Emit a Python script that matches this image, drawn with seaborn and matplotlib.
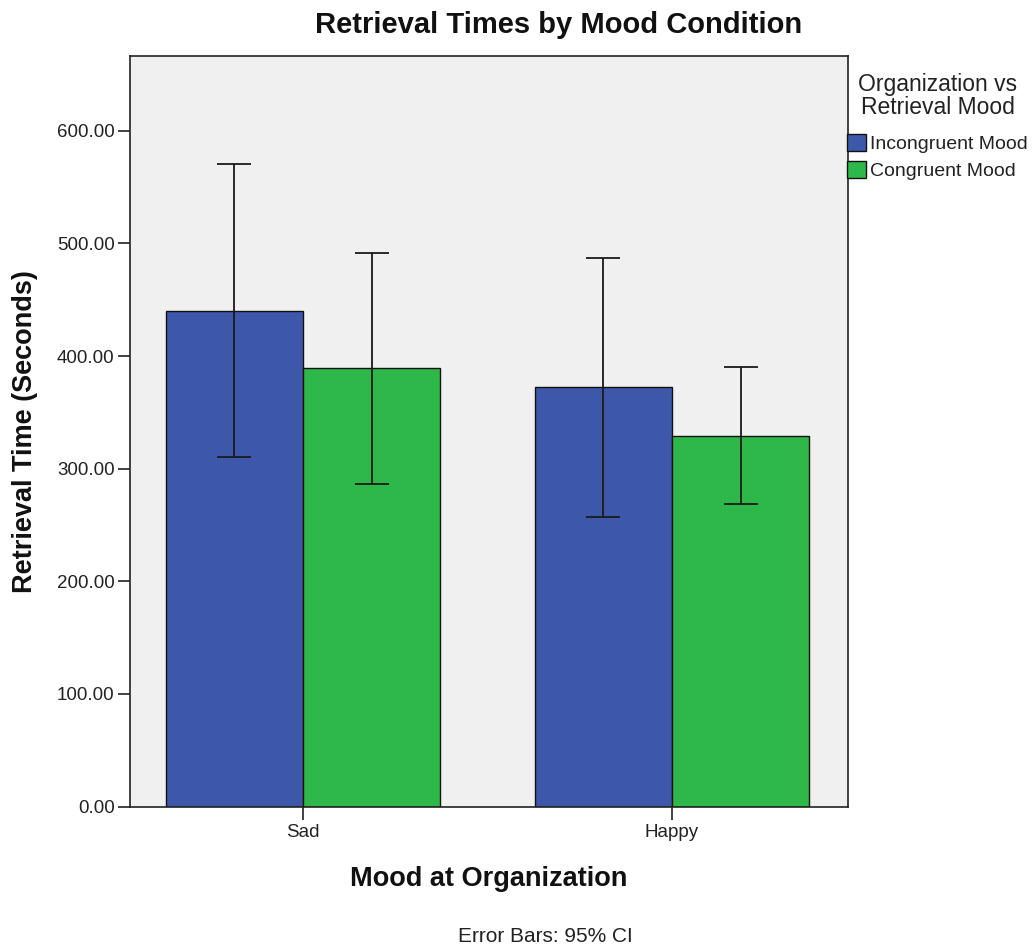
import matplotlib
matplotlib.use("Agg")
import matplotlib.pyplot as plt
from matplotlib.ticker import FixedLocator, StrMethodFormatter
import seaborn as sns
import pandas as pd

# ---- data ----
moods = ["Sad", "Happy"]
conditions = ["Incongruent Mood", "Congruent Mood"]
means_incongruent = [440.0, 372.6]
means_congruent = [389.4, 329.3]
ci_low_incongruent = [310.4, 257.4]
ci_high_incongruent = [570.6, 486.9]
ci_low_congruent = [286.4, 268.9]
ci_high_congruent = [491.8, 390.3]
y_ticks = [0, 100, 200, 300, 400, 500, 600]

colors = ["#3D58AB", "#2EB84A"]

sns.set_theme(style="white")
plt.rcParams['font.family'] = ['Liberation Sans', 'DejaVu Sans']

df = pd.DataFrame({
    "Mood": moods + moods,
    "Condition": [conditions[0]] * 2 + [conditions[1]] * 2,
    "Time": means_incongruent + means_congruent,
})
lows = [ci_low_incongruent, ci_low_congruent]
highs = [ci_high_incongruent, ci_high_congruent]
means = [means_incongruent, means_congruent]

W, H = 1034, 949
fig = plt.figure(figsize=(W / 100, H / 100), dpi=100)
ax = fig.add_axes([130 / W, 1 - 806.5 / H, (848 - 130) / W, (806.5 - 56) / H])

sns.barplot(data=df, x="Mood", y="Time", hue="Condition", order=moods,
            hue_order=conditions, palette=colors, saturation=1, width=0.745,
            errorbar=None, edgecolor="#111111", linewidth=1.0, ax=ax)

bar_containers = list(ax.containers)
for ci, cont in enumerate(bar_containers):
    xs = [p.get_x() + p.get_width() / 2 for p in cont.patches]
    m = means[ci]
    yerr = [[m[i] - lows[ci][i] for i in range(len(m))],
            [highs[ci][i] - m[i] for i in range(len(m))]]
    ax.errorbar(xs, m, yerr=yerr, fmt="none", ecolor="#1a1a1a",
                elinewidth=1.3, capsize=12, capthick=1.3, zorder=5)

ax.set_facecolor("#F0F0F0")
ax.set_xlim(-0.469, 1.477)
ax.set_ylim(0, 666.5)
ax.yaxis.set_major_locator(FixedLocator(y_ticks))
ax.yaxis.set_major_formatter(StrMethodFormatter("{x:.2f}"))
for s in ax.spines.values():
    s.set_visible(True)
    s.set_color("#222222")
    s.set_linewidth(1.2)
ax.tick_params(axis="y", which="major", direction="out", length=9, width=1.2,
               color="#222222", labelsize=13.5, labelcolor="#222222", pad=2, left=True)
ax.tick_params(axis="x", which="major", direction="out", length=9.5, width=1.2,
               color="#222222", labelsize=13.5, labelcolor="#222222", pad=3, bottom=True)

ax.set_xlabel("Mood at Organization", fontsize=19.5, fontweight="bold", color="#111111")
ax.xaxis.label.set_va("center")
ax.xaxis.set_label_coords(0.5, (806.5 - 879) / 750.5)
ax.set_ylabel("Retrieval Time (Seconds)", fontsize=19.5, fontweight="bold", color="#111111")
ax.yaxis.label.set_va("center")
ax.yaxis.set_label_coords((25 - 130) / 718, 0.5)

fig.text(558.5 / W, 1 - 25 / H, "Retrieval Times by Mood Condition", ha="center",
         va="center", fontsize=21, fontweight="bold", color="#111111")
fig.text(545 / W, 1 - 937 / H, "Error Bars: 95% CI", ha="center", va="center",
         fontsize=15, color="#222222")

handles, labels = ax.get_legend_handles_labels()
if ax.get_legend() is not None:
    ax.get_legend().remove()
leg = fig.legend(handles, labels, title="Organization vs\nRetrieval Mood",
                 loc="upper left", bbox_to_anchor=(847 / W, 1 - 73 / H),
                 frameon=False, fontsize=14, title_fontsize=16.5,
                 handlelength=1.0, handleheight=1.0, handletextpad=0.2,
                 labelspacing=0.4, borderpad=0, borderaxespad=0)
leg.get_title().set_linespacing(1.0)
leg.get_title().set_multialignment("center")
leg.get_title().set_color("#222222")
try:
    leg._legend_box.sep = 10.5
except Exception:
    pass
for t in leg.get_texts():
    t.set_color("#222222")

fig.savefig("out.png", dpi=100)
